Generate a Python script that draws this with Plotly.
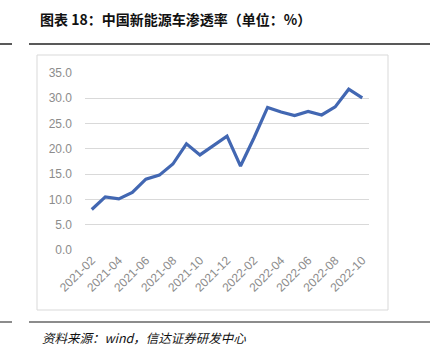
import plotly.graph_objects as go

months = ["2021-02","2021-03","2021-04","2021-05","2021-06","2021-07","2021-08","2021-09",
          "2021-10","2021-11","2021-12","2022-01","2022-02","2022-03","2022-04","2022-05",
          "2022-06","2022-07","2022-08","2022-09","2022-10"]
penetration = [8.0,10.5,10.1,11.4,14.0,14.8,17.0,21.0,18.8,20.7,22.5,16.6,22.2,28.2,27.3,26.6,27.4,26.7,28.3,31.8,30.1]
tick_labels = months[::2]
y_ticks = [0,5,10,15,20,25,30,35]

W, H = 430, 358
def px(x): return x / W
def py(y): return 1 - y / H

fig = go.Figure()
fig.add_trace(go.Scatter(x=months, y=penetration, mode="lines",
                         line=dict(color="#4267B2", width=3.2), hoverinfo="x+y"))

tick_font = dict(family="Liberation Sans, Arial, sans-serif", size=12, color="#8c8c8c")
fig.update_layout(
    width=W, height=H, margin=dict(l=0, r=0, t=0, b=0, pad=0), autosize=False,
    paper_bgcolor="white", plot_bgcolor="white", showlegend=False,
    xaxis=dict(domain=[px(85), px(369)], type="category", range=[-0.5, 20.5],
               tickvals=tick_labels, ticktext=tick_labels, tickangle=-45, automargin=False,
               tickfont=tick_font, showgrid=False, showline=False, ticks="", zeroline=False),
    yaxis=dict(domain=[py(250), py(73)], range=[0, 35], tickvals=y_ticks, automargin=False,
               tickformat=".1f", tickfont=tick_font, showgrid=True, gridcolor="#d9d9d9",
               gridwidth=1, zeroline=False, showline=False, ticks="", ticklabelstandoff=12),
    shapes=[
        dict(type="rect", xref="paper", yref="paper", x0=px(37), x1=px(388), y0=py(310), y1=py(55),
             line=dict(color="#d9d9d9", width=1)),
        dict(type="line", xref="paper", yref="paper", x0=0, x1=px(12), y0=py(44), y1=py(44),
             line=dict(color="#222222", width=1.5)),
        dict(type="line", xref="paper", yref="paper", x0=px(29), x1=1, y0=py(44), y1=py(44),
             line=dict(color="#222222", width=1.5)),
        dict(type="line", xref="paper", yref="paper", x0=0, x1=px(12), y0=py(322), y1=py(322),
             line=dict(color="#666666", width=1.5)),
        dict(type="line", xref="paper", yref="paper", x0=px(29), x1=1, y0=py(322), y1=py(322),
             line=dict(color="#666666", width=1.5)),
    ],
    annotations=[
        dict(text="<b>图表 18：中国新能源车渗透率（单位：%）</b>", xref="paper", yref="paper",
             x=px(38), y=py(19), xanchor="left", yanchor="middle", showarrow=False,
             font=dict(family="Noto Sans CJK SC", size=14, color="#111111")),
        dict(text="<i>资料来源：wind，信达证券研发中心</i>", xref="paper", yref="paper",
             x=px(40), y=py(337), xanchor="left", yanchor="middle", showarrow=False,
             font=dict(family="Noto Sans CJK SC", size=12.5, color="#111111")),
    ],
)
fig.write_html("out.html", config={"displayModeBar": False},
               post_script="document.body.style.margin='0';document.body.style.overflow='hidden';")
